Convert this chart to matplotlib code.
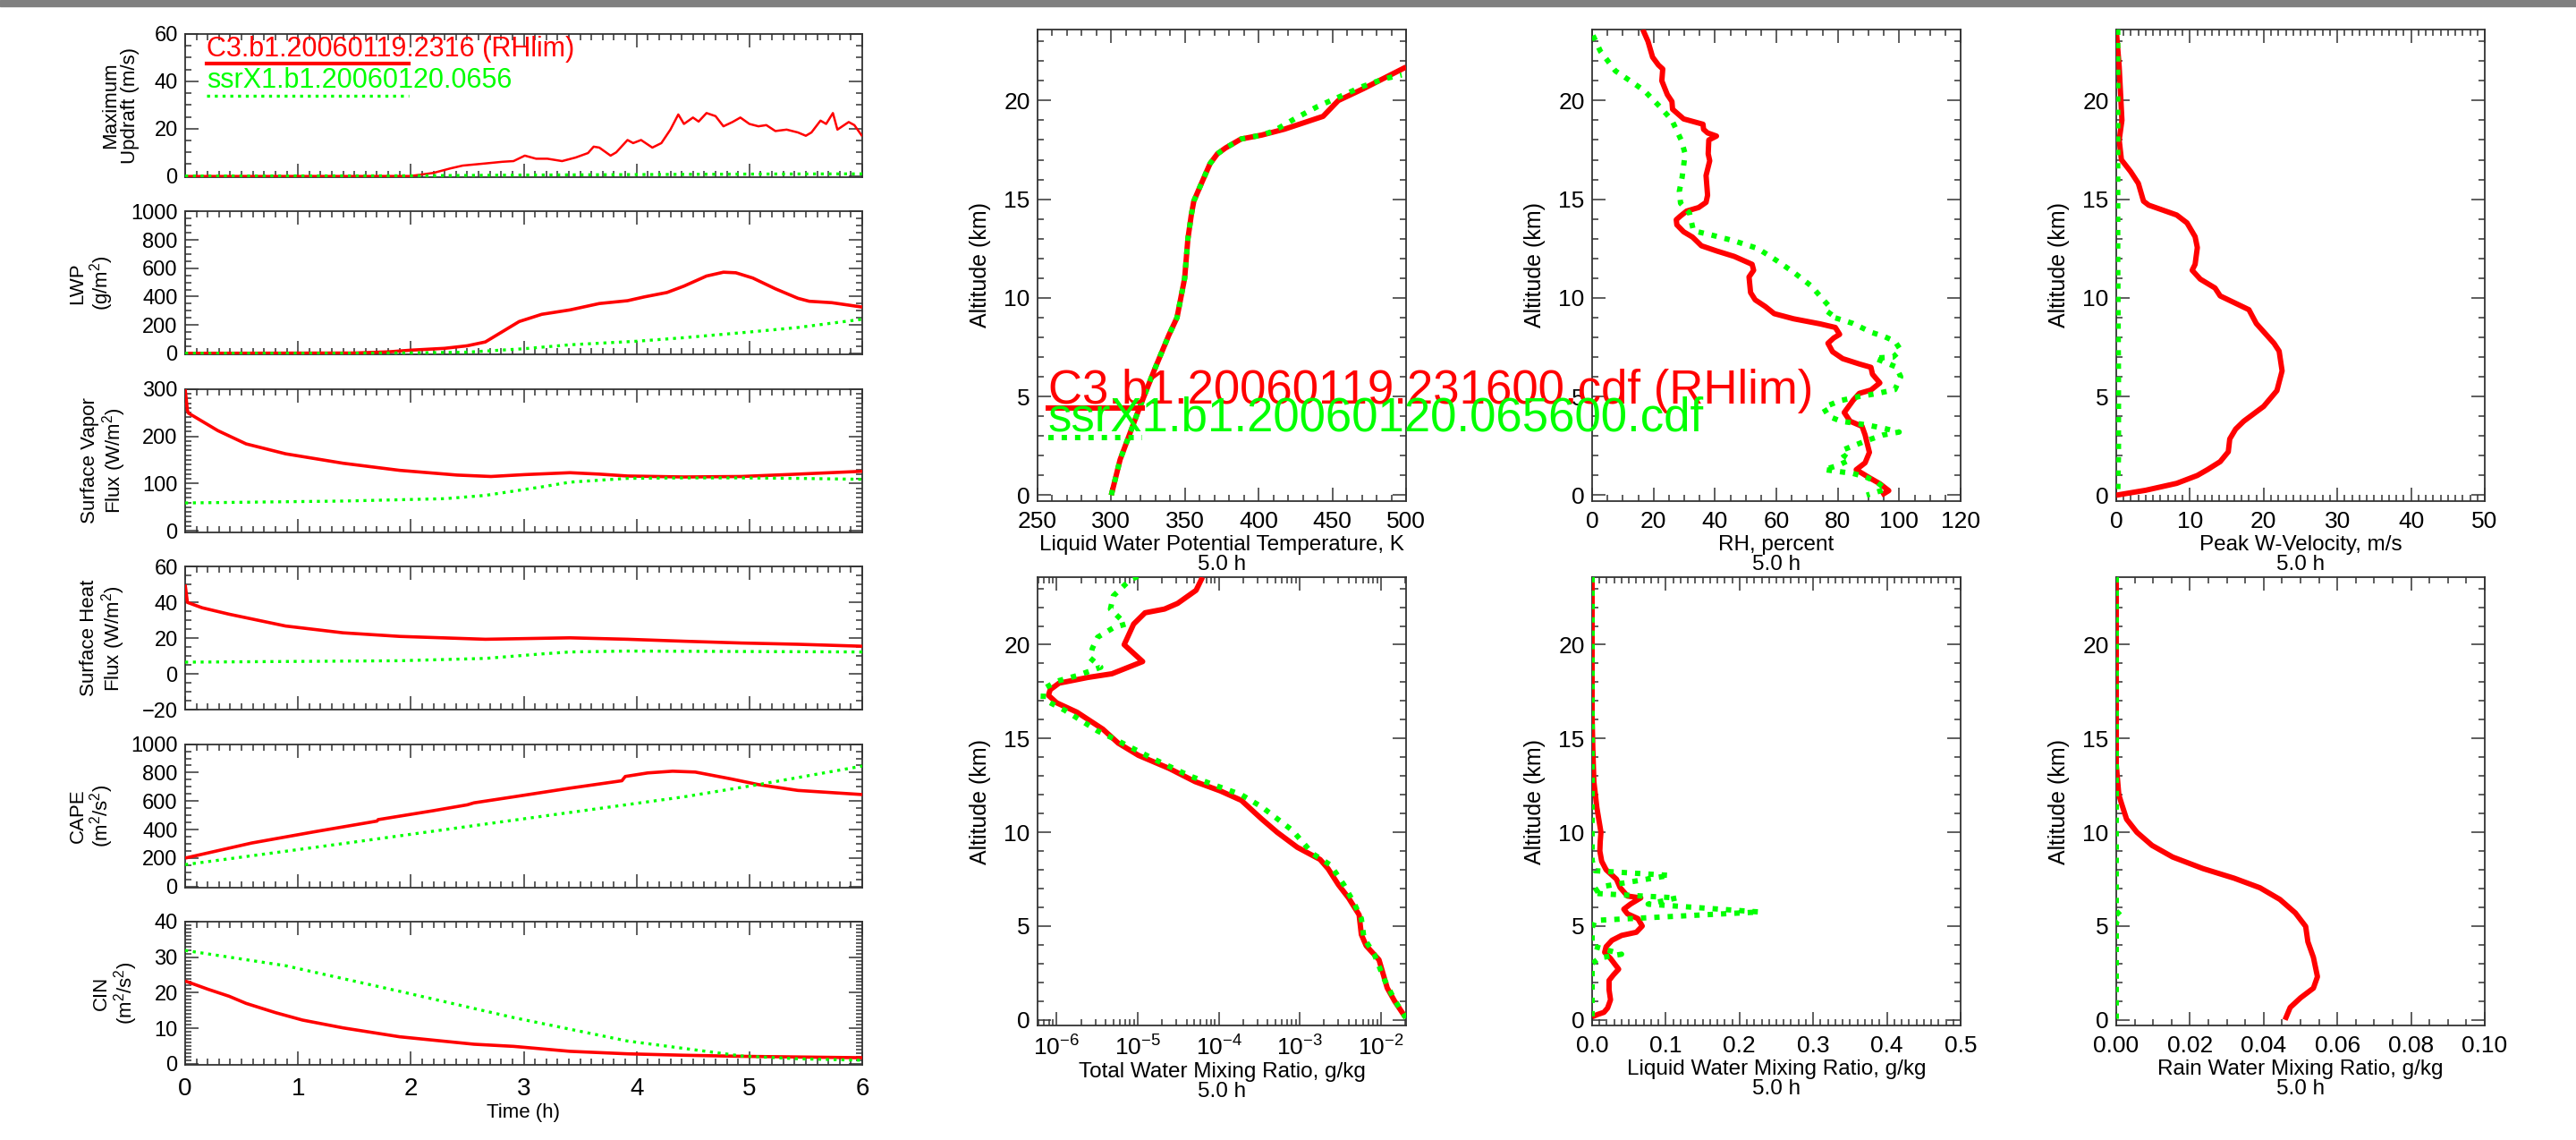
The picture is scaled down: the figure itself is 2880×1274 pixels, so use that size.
import numpy as np
import matplotlib
matplotlib.use("Agg")
import matplotlib.pyplot as plt
from matplotlib.ticker import (MultipleLocator, FixedLocator, NullFormatter, LogLocator,
                               FormatStrFormatter)
from matplotlib.patches import Rectangle

FAMILY = ["Liberation Sans", "DejaVu Sans"]
plt.rcParams["font.family"] = FAMILY
plt.rcParams["mathtext.default"] = "regular"

RED = "#ff0000"
GREEN = "#00ff00"

lab_red_short = "C3.b1.20060119.2316 (RHlim)"
lab_green_short = "ssrX1.b1.20060120.0656"
lab_red_long = "C3.b1.20060119.231600.cdf (RHlim)"
lab_green_long = "ssrX1.b1.20060120.065600.cdf"

# ---- time series (hours) ----
upd_t_red = [0, 2.0, 2.2, 2.35, 2.46, 2.66, 2.81, 2.91, 3.01, 3.11, 3.21, 3.34, 3.46, 3.57, 3.62,
             3.67, 3.77, 3.82, 3.92, 3.97, 4.04, 4.14, 4.22, 4.30, 4.37, 4.42, 4.50, 4.55, 4.62,
             4.70, 4.77, 4.85, 4.92, 5.0, 5.08, 5.15, 5.23, 5.33, 5.43, 5.5, 5.55, 5.63, 5.68,
             5.74, 5.78, 5.88, 5.93, 6.0]
upd_red = [0, 0, 1.3, 3.2, 4.4, 5.3, 6.0, 6.3, 8.6, 7.3, 7.3, 6.3, 7.8, 9.7, 12.4,
           12.0, 8.6, 10.0, 15.2, 13.9, 15.2, 12.0, 13.9, 19.6, 26.0, 22.0, 24.7, 23.0, 26.6,
           25.3, 21.0, 22.8, 24.7, 22.0, 21.0, 21.5, 19.0, 19.6, 18.4, 17.0, 18.4, 23.4, 22.0,
           26.6, 19.6, 22.8, 21.5, 16.8]
upd_t_green = [0, 2.0, 3.0, 4.0, 5.0, 6.0]
upd_green = [0, 0.1, 0.4, 0.6, 0.8, 0.9]

lwp_t_red = [0, 1.5, 1.8, 2.0, 2.3, 2.5, 2.66, 2.81, 2.96, 3.16, 3.41, 3.67, 3.92, 4.07, 4.27,
             4.42, 4.62, 4.77, 4.88, 5.03, 5.23, 5.43, 5.53, 5.73, 6.0]
lwp_red = [0, 2, 10, 22, 35, 53, 80, 152, 224, 275, 306, 351, 371, 398, 429,
           474, 545, 572, 568, 531, 455, 388, 367, 357, 326]
lwp_t_green = [0, 1.4, 2.0, 2.5, 3.0, 3.41, 4.0, 4.42, 5.0, 5.43, 6.0]
lwp_green = [0, 0, 3, 8, 32, 60, 85, 110, 150, 182, 240]

vap_t_red = [0, 0.02, 0.03, 0.29, 0.54, 0.89, 1.40, 1.90, 2.41, 2.71, 3.01, 3.41, 3.67, 3.92,
             4.42, 4.93, 5.43, 6.0]
vap_red = [300, 255, 249, 212, 184, 163, 143, 128, 118, 115, 119, 123, 120, 116, 114, 115, 120, 126]
vap_t_green = [0, 1.40, 2.30, 2.66, 2.91, 3.16, 3.41, 3.92, 4.42, 4.93, 5.43, 6.0]
vap_green = [59, 63, 68, 75, 84, 93, 103, 111, 112, 112, 111, 109]

heat_t_red = [0, 0.02, 0.15, 0.39, 0.89, 1.40, 1.90, 2.66, 3.41, 3.92, 4.42, 4.93, 5.43, 6.0]
heat_red = [50, 40, 37, 33.4, 26.8, 23, 21, 19.4, 20.2, 19.4, 18.3, 17.3, 16.6, 15.5]
heat_t_green = [0, 1.90, 2.66, 3.16, 3.41, 3.92, 6.0]
heat_green = [6.6, 7.4, 8.7, 11.2, 12.3, 12.8, 12.3]

cape_t_red = [0, 0.59, 1.14, 1.70, 1.71, 2.2, 2.5, 2.56, 2.91, 3.41, 3.87, 3.9, 4.1, 4.32, 4.52,
              4.83, 5.08, 5.43, 6.0]
cape_red = [200, 306, 384, 460, 470, 533, 574, 588, 630, 691, 743, 773, 798, 810, 804,
            757, 716, 675, 646]
cape_t_green = [0, 1.4, 2.91, 4.42, 5.08, 6.0]
cape_green = [154, 302, 466, 630, 716, 846]

cin_t_red = [0, 0.2, 0.39, 0.54, 0.8, 1.04, 1.40, 1.90, 2.56, 2.91, 3.41, 3.92, 4.42, 4.93, 6.0]
cin_red = [23.3, 21.0, 19.0, 17.0, 14.4, 12.3, 10.1, 7.6, 5.5, 4.9, 3.5, 2.8, 2.4, 2.1, 1.7]
cin_t_green = [0, 0.89, 1.90, 2.91, 3.92, 4.93, 5.43, 6.0]
cin_green = [31.9, 27.6, 20.4, 13.0, 6.4, 2.2, 1.4, 1.0]

# ---- profiles at 5.0 h (altitude km) ----
thl_red = [300, 306, 318.5, 329, 339, 344.6, 349.8, 352, 354.3, 356, 360, 367, 372, 377.6, 388,
           402, 417.5, 443.7, 454, 471, 500]
thl_z_red = [0, 1.8, 4.3, 6.3, 8.1, 9.0, 11.0, 13.0, 14.2, 14.9, 15.6, 16.8, 17.3, 17.6, 18.05,
             18.25, 18.55, 19.2, 20.0, 20.6, 21.7]
thl_green = [300, 306, 318.5, 329, 339, 344.6, 349.8, 352, 354.3, 356, 360, 367, 372, 377.6, 388,
             402, 410, 425, 440, 455, 470, 485, 497]
thl_z_green = [0, 1.8, 4.3, 6.3, 8.1, 9.0, 11.0, 13.0, 14.2, 14.9, 15.6, 16.8, 17.3, 17.6, 18.05,
               18.25, 18.45, 19.1, 19.7, 20.2, 20.7, 21.1, 21.3]

rh_red = [16.5, 18.2, 19.7, 21.6, 23.0, 22.7, 24.5, 26.0, 26.2, 29.8, 36.1, 36.3, 37.6, 40.5, 38.0,
          37.8, 38.3, 37.1, 37.6, 37.1, 34.7, 30.8, 28.7, 27.4, 27.6, 29.8, 32.7, 35.6, 40.5, 46.3,
          52.1, 52.6, 51.1, 51.6, 53.1, 56.4, 59.3, 65.6, 74.3, 79.2, 80.6, 78.7, 76.8, 78.3, 81.6,
          87.0, 90.8, 91.3, 93.7, 90.8, 87.0, 85.0, 82.1, 84.0, 87.9, 88.9, 90.3, 88.9, 86.0, 89.8,
          93.7, 96.6, 94.2]
rh_z_red = [23.6, 23.0, 22.2, 21.8, 21.6, 21.0, 20.3, 19.95, 19.56, 19.07, 18.8, 18.54, 18.36, 18.2,
            18.0, 17.3, 16.95, 16.2, 15.2, 14.84, 14.58, 14.4, 14.14, 13.96, 13.7, 13.35, 13.08,
            12.64, 12.38, 12.1, 11.7, 11.4, 11.06, 10.27, 9.9, 9.56, 9.2, 8.94, 8.68, 8.5, 8.15,
            7.97, 7.7, 7.27, 6.92, 6.65, 6.48, 6.13, 5.69, 5.33, 5.16, 4.81, 4.19, 3.75, 3.49, 3.05,
            2.17, 1.64, 1.29, 0.93, 0.58, 0.23, 0.0]
rh_green = [0.3, 2.7, 7.6, 12.4, 17, 22, 26, 29, 30.3, 29.3, 28.4, 28.8, 31.7, 33, 38.5, 46, 54,
            60, 65.6, 71.4, 75.3, 78.2, 76.8, 81, 85, 91, 95, 98.6, 100.5, 98, 92, 99, 100.5, 98.6,
            92.7, 87, 81, 75.3, 77, 81, 89, 94.7, 100, 94.7, 90, 85, 81, 82, 84, 80, 75.5, 85, 89,
            92.7, 95.6, 89.4]
rh_z_green = [23.3, 22.5, 21.5, 21.0, 20.5, 19.7, 19.0, 18.0, 17.3, 16.1, 15.4, 14.8, 14.3, 13.4,
              13.2, 12.9, 12.5, 11.9, 11.3, 10.6, 9.9, 9.4, 9.1, 8.9, 8.7, 8.25, 8.05, 7.8, 7.35,
              7.0, 6.95, 6.5, 6.0, 5.35, 5.15, 5.0, 4.8, 4.45, 4.0, 3.75, 3.57, 3.4, 3.2, 3.05, 2.8,
              2.5, 2.25, 2.0, 1.8, 1.5, 1.3, 1.1, 0.93, 0.67, 0.3, 0.0]

w_red = [0, 0.4, 0.77, 0.4, 0.7, 1.95, 3.0, 3.7, 4.4, 8.2, 9.6, 10.7, 11.0, 10.7, 10.3, 11.4, 13.4,
         14.1, 18.0, 19.0, 21.4, 22.1, 22.5, 21.8, 20.0, 17.3, 16.2, 15.4, 15.2, 14.1, 12.4, 11.0,
         8.2, 4.0, 0]
w_z_red = [23.6, 21.7, 19.0, 18.0, 17.0, 16.4, 15.8, 14.9, 14.7, 14.2, 13.8, 13.1, 12.55, 11.7,
           11.4, 10.95, 10.5, 10.1, 9.4, 8.7, 7.7, 7.3, 6.3, 5.3, 4.5, 3.75, 3.35, 2.85, 2.2, 1.7,
           1.3, 1.0, 0.6, 0.25, 0]
w_green = [0.2, 0.2, 0.2, 0.3, 0.3, 0.2]
w_z_green = [23.6, 18.0, 12.0, 6.0, 2.0, 0]

tw_red = [6.3e-5, 5.25e-5, 3.1e-5, 2.14e-5, 1.23e-5, 8.9e-6, 6.8e-6, 1.15e-5, 4.8e-6, 2.4e-6,
          1.07e-6, 8.3e-7, 7.9e-7, 1.0e-6, 1.78e-6, 3.7e-6, 5.75e-6, 1.02e-5, 2.45e-5, 5.1e-5,
          1.05e-4, 1.9e-4, 3.4e-4, 5.25e-4, 9.3e-4, 1.78e-3, 2.24e-3, 3.0e-3, 4.0e-3, 5.4e-3,
          5.75e-3, 6.6e-3, 9.5e-3, 1.2e-2, 1.48e-2, 2.0e-2]
tw_z_red = [23.6, 22.9, 22.2, 21.9, 21.7, 21.1, 20.0, 19.1, 18.45, 18.25, 17.95, 17.6, 17.3, 16.9,
            16.4, 15.5, 14.75, 14.1, 13.4, 12.7, 12.2, 11.7, 10.7, 10.0, 9.2, 8.55, 8.05, 7.2, 6.5,
            5.6, 4.55, 3.95, 3.2, 1.7, 1.0, 0.15]
tw_green = [1.0e-5, 7.8e-6, 5.0e-6, 4.6e-6, 7.1e-6, 5.0e-6, 3.2e-6, 2.75e-6, 2.57e-6, 3.5e-6,
            1.78e-6, 1.0e-6, 6.9e-7, 6.8e-7, 1.26e-6, 2.1e-6, 3.2e-6, 5.0e-6, 7.6e-6, 1.58e-5,
            4.4e-5, 1.05e-4, 1.9e-4, 3.4e-4, 8.1e-4, 1.45e-3, 2.4e-3, 3.5e-3, 4.7e-3, 5.75e-3,
            6.2e-3, 8.3e-3, 1.12e-2, 1.48e-2, 2.04e-2]
tw_z_green = [23.65, 23.4, 22.6, 21.9, 21.1, 20.9, 20.4, 19.8, 19.3, 18.8, 18.35, 18.05, 17.65,
              17.1, 16.5, 15.9, 15.4, 15.0, 14.6, 13.9, 13.0, 12.4, 12.0, 11.35, 10.1, 8.85, 8.25,
              7.2, 6.2, 5.4, 4.35, 3.5, 2.1, 1.05, 0.1]

lwc_red = [0, 0.0, 0.001, 0.0024, 0.0065, 0.012, 0.011, 0.0105, 0.013, 0.019, 0.033, 0.038, 0.048,
           0.066, 0.052, 0.043, 0.048, 0.062, 0.068, 0.06, 0.04, 0.027, 0.019, 0.017, 0.025, 0.036,
           0.029, 0.023, 0.023, 0.025, 0.021, 0.016, 0.007, 0]
lwc_z_red = [23.6, 16.2, 14.4, 12.7, 11.3, 10.0, 9.5, 9.0, 8.45, 8.0, 7.5, 7.05, 6.6, 6.5, 6.17,
             5.9, 5.65, 5.4, 5.0, 4.67, 4.5, 4.24, 3.9, 3.6, 3.27, 2.7, 2.4, 2.1, 1.6, 1.07, 0.63,
             0.4, 0.28, 0.16]
lwc_green = [0, 0, 0.004, 0.105, 0.013, 0.0, 0.115, 0.076, 0.227, 0.004, 0.0, 0.0, 0.04, 0.01, 0.0, 0]
lwc_z_green = [23.6, 8.5, 7.95, 7.7, 7.1, 6.75, 6.5, 6.17, 5.75, 5.3, 4.9, 3.95, 3.5, 3.3, 3.0, 0]

rain_red = [0, 0, 0.0007, 0.0014, 0.0028, 0.0056, 0.0097, 0.0153, 0.0236, 0.032, 0.039, 0.0444,
            0.0486, 0.0514, 0.052, 0.0535, 0.0546, 0.0535, 0.05, 0.0472, 0.0458]
rain_z_red = [23.6, 13.6, 12.0, 11.55, 10.7, 10.0, 9.3, 8.68, 8.06, 7.55, 7.04, 6.42, 5.7, 4.98,
              4.16, 3.33, 2.3, 1.69, 1.17, 0.66, 0.0]
rain_green = [0, 0, 0.0015, 0, 0]
rain_z_green = [23.6, 5.8, 5.5, 5.2, 0]

fig = plt.figure(figsize=(28.8, 12.74), dpi=100)
fig.add_artist(Rectangle((0, 1 - 7 / 1274), 1, 7 / 1274, transform=fig.transFigure,
                         color="#808080", zorder=10))


def ticks(ax, xmaj, xmin, ymaj, ymin, size):
    if xmaj is not None:
        ax.xaxis.set_major_locator(MultipleLocator(xmaj))
        ax.xaxis.set_minor_locator(MultipleLocator(xmin))
    ax.yaxis.set_major_locator(MultipleLocator(ymaj))
    ax.yaxis.set_minor_locator(MultipleLocator(ymin))
    ax.tick_params(which="both", direction="in", top=True, right=True, labelsize=size,
                   color="#333333", pad=6)
    ax.tick_params(which="major", length=11, width=1.1)
    ax.tick_params(which="minor", length=5, width=1.1)
    for s in ax.spines.values():
        s.set_linewidth(1.3)
        s.set_color("#333333")


def red(ax, x, y, lw):
    ax.plot(x, y, color=RED, lw=lw, solid_capstyle="butt", zorder=3)


def green(ax, x, y, lw, gap=1.6):
    ax.plot(x, y, color=GREEN, lw=lw, linestyle=(0, (1, gap)), dash_capstyle="butt", zorder=4)


# ---- left column ----
left_specs = [
    ("Maximum\nUpdraft (m/s)", (-0.5, 60), 20, 5, upd_t_red, upd_red, upd_t_green, upd_green, 1.8),
    ("LWP\n(g/m$^2$)", (-10, 1000), 200, 50, lwp_t_red, lwp_red, lwp_t_green, lwp_green, 2.6),
    ("Surface Vapor\nFlux (W/m$^2$)", (-3, 300), 100, 10, vap_t_red, vap_red, vap_t_green, vap_green, 2.6),
    ("Surface Heat\nFlux (W/m$^2$)", (-20, 60), 20, 5, heat_t_red, heat_red, heat_t_green, heat_green, 2.6),
    ("CAPE\n(m$^2$/s$^2$)", (-5, 1000), 200, 50, cape_t_red, cape_red, cape_t_green, cape_green, 2.6),
    ("CIN\n(m$^2$/s$^2$)", (-0.3, 40), 10, 1, cin_t_red, cin_red, cin_t_green, cin_green, 2.6),
]
W, H = 2880.0, 1274.0
for i, (lab, ylim, ymaj, ymin, tr, vr, tg, vg, lw) in enumerate(left_specs):
    top = 38 + 198.4 * i
    ax = fig.add_axes([207 / W, 1 - (top + 160) / H, 757 / W, 160 / H])
    red(ax, tr, vr, lw)
    green(ax, tg, vg, 2.4, 1.6)
    ax.set_xlim(0, 6)
    ax.set_ylim(*ylim)
    ticks(ax, 1, 0.1, ymaj, ymin, 17)
    ax.set_ylabel(lab, fontsize=16, linespacing=1.05, labelpad=12)
    if i < 5:
        ax.xaxis.set_major_formatter(NullFormatter())
    else:
        ax.tick_params(axis="x", labelsize=20, pad=10)
        ax.set_xlabel("Time (h)", fontsize=16, labelpad=2)
    if i == 0:
        ax.text(0.19, 50.6, lab_red_short, color=RED, fontsize=22, va="baseline")
        ax.plot([0.19, 1.98], [47.5, 47.5], color=RED, lw=3)
        ax.text(0.19, 37.3, lab_green_short, color=GREEN, fontsize=22, va="baseline")
        green(ax, [0.19, 1.98], [33.9, 33.9], 2.4, 1.6)

# ---- profile panels ----
col_left = [1160, 1780, 2366]
row_box = [(33, 560), (645, 1146)]
prof_specs = [
    (0, 0, "Liquid Water Potential Temperature, K", (250, 500), 50, 10, "%d",
     thl_red, thl_z_red, thl_green, thl_z_green),
    (0, 1, "RH, percent", (0, 120), 20, 5, "%d", rh_red, rh_z_red, rh_green, rh_z_green),
    (0, 2, "Peak W-Velocity, m/s", (0, 50), 10, 1, "%d", w_red, w_z_red, w_green, w_z_green),
    (1, 0, "Total Water Mixing Ratio, g/kg", (5.8e-7, 2.05e-2), None, None, None,
     tw_red, tw_z_red, tw_green, tw_z_green),
    (1, 1, "Liquid Water Mixing Ratio, g/kg", (0, 0.5), 0.1, 0.01, "%.1f",
     lwc_red, lwc_z_red, lwc_green, lwc_z_green),
    (1, 2, "Rain Water Mixing Ratio, g/kg", (0, 0.10), 0.02, 0.005, "%.2f",
     rain_red, rain_z_red, rain_green, rain_z_green),
]
for r, c, title, xlim, xmaj, xmin, fmt, xr, zr, xg, zg in prof_specs:
    top, bot = row_box[r]
    ax = fig.add_axes([col_left[c] / W, 1 - bot / H, 412 / W, (bot - top) / H])
    red(ax, xr, zr, 4.3)
    green(ax, xg, zg, 4.3, 1.5)
    if xmaj is None:
        ax.set_xscale("log")
        ax.xaxis.set_major_locator(FixedLocator([1e-6, 1e-5, 1e-4, 1e-3, 1e-2]))
        ax.set_xticklabels(["10$^{-6}$", "10$^{-5}$", "10$^{-4}$", "10$^{-3}$", "10$^{-2}$"])
        ax.xaxis.set_minor_locator(LogLocator(base=10, subs=np.arange(2, 10)))
        ax.xaxis.set_minor_formatter(NullFormatter())
        ticks(ax, None, None, 5, 1, 19)
    else:
        ticks(ax, xmaj, xmin, 5, 1, 19)
        ax.xaxis.set_major_formatter(FormatStrFormatter(fmt))
    ax.set_xlim(*xlim)
    ax.set_ylim(-0.3, 23.6)
    ax.tick_params(axis="x", pad=8)
    ax.set_ylabel("Altitude (km)", fontsize=18, labelpad=10)
    ax.set_xlabel(title + "\n5.0 h", fontsize=17.5, linespacing=1.0, labelpad=2)
    if r == 0 and c == 0:
        # legend text runs across the neighbouring panel, so lift this axes above it
        ax.set_zorder(2)
        ax.text(257, 4.65, lab_red_long, color=RED, fontsize=38, va="baseline", zorder=5)
        ax.plot([257, 321], [4.42, 4.42], color=RED, lw=4.3, zorder=5)
        ax.text(257, 3.25, lab_green_long, color=GREEN, fontsize=38, va="baseline", zorder=5)
        green(ax, [257, 321], [2.92, 2.92], 4.3, 1.5)

fig.savefig("out.png", dpi=100)
